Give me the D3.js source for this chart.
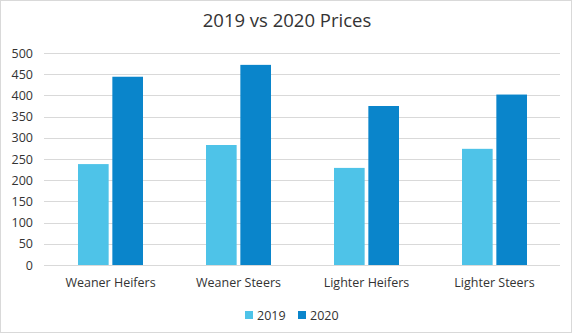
<!DOCTYPE html>
<html><head><meta charset="utf-8">
<script src="https://cdn.jsdelivr.net/npm/d3@7"></script>
<style>body{margin:0;background:#fff;} text{font-family:"Open Sans",sans-serif;fill:#333;}</style>
</head><body>
<svg id="c" width="572" height="333"></svg>
<script>
const categories = ["Weaner Heifers", "Weaner Steers", "Lighter Heifers", "Lighter Steers"];
const seriesNames = ["2019", "2020"];
const values2019 = [238, 283, 229, 274];
const values2020 = [444, 472, 375, 402];
const yTicks = [0, 50, 100, 150, 200, 250, 300, 350, 400, 450, 500];
const colors = ["#4EC3E8", "#0A85CB"];

const svg = d3.select("#c");
svg.append("rect").attr("x",0.5).attr("y",0.5).attr("width",571).attr("height",332)
  .attr("fill","#fff").attr("stroke","#d9d9d9");

const x = d3.scaleBand().domain(categories).range([46.5, 558.5]);
const xi = d3.scaleBand().domain(seriesNames).range([0, 65]).paddingInner(7/65);
const y = d3.scaleLinear().domain([0, 500]).range([265, 53]);

svg.append("g").selectAll("line").data(yTicks).join("line")
  .attr("x1", 44).attr("x2", 560)
  .attr("y1", d => Math.round(y(d))+0.5).attr("y2", d => Math.round(y(d))+0.5)
  .attr("stroke", "#d9d9d9").attr("stroke-width", 1);

const yAxis = svg.append("g").attr("transform","translate(44,0)")
  .call(d3.axisLeft(y).tickValues(yTicks).tickSize(0).tickPadding(11));
yAxis.select(".domain").remove();
yAxis.selectAll("text").style("font-size","12.5px").style("font-family","'Open Sans',sans-serif").attr("fill","#333");

const data = categories.map((c,i)=>({cat:c, vals:[values2019[i], values2020[i]]}));
const groups = svg.append("g").selectAll("g").data(data).join("g")
  .attr("transform", d => `translate(${x(d.cat) + (x.bandwidth()-65)/2},0)`);
groups.selectAll("rect").data(d => d.vals.map((v,j)=>({s:seriesNames[j], v, j})))
  .join("rect")
  .attr("x", d => xi(d.s)).attr("width", xi.bandwidth())
  .attr("y", d => y(d.v)).attr("height", d => y(0)-y(d.v))
  .attr("fill", d => colors[d.j]);

const xAxis = svg.append("g").attr("transform","translate(0,265)")
  .call(d3.axisBottom(x).tickSize(0).tickPadding(13));
xAxis.select(".domain").remove();
xAxis.selectAll("text").style("font-size","12.5px").style("font-family","'Open Sans',sans-serif").attr("fill","#333");

svg.append("text").attr("x", 287).attr("y", 27).attr("text-anchor","middle")
  .style("font-size","18.5px").text("2019 vs 2020 Prices");

const legendX = [245, 298];
const leg = svg.append("g").selectAll("g").data(seriesNames).join("g")
  .attr("transform", (d,i)=>`translate(${legendX[i]},311)`);
leg.append("rect").attr("width",8).attr("height",8).attr("fill",(d,i)=>colors[i]);
leg.append("text").attr("x",12).attr("y",8.5).style("font-size","12.5px").text(d=>d);
</script>
</body></html>
